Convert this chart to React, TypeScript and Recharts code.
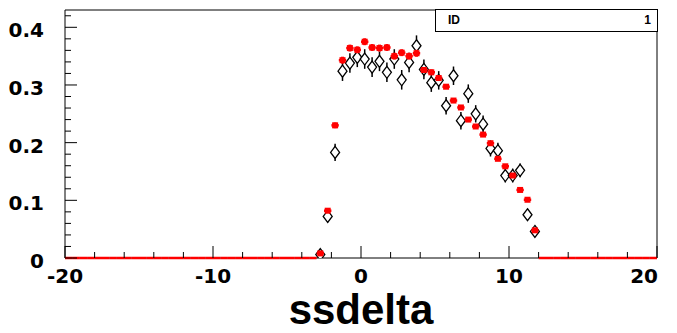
import {
  ComposedChart,
  Scatter,
  XAxis,
  YAxis,
  ErrorBar,
  ReferenceLine,
  Label,
} from "recharts";

// bin centres of the 80-bin histogram, -20..20
const binCenters = [
  -19.75, -19.25, -18.75, -18.25, -17.75, -17.25, -16.75, -16.25, -15.75, -15.25,
  -14.75, -14.25, -13.75, -13.25, -12.75, -12.25, -11.75, -11.25, -10.75, -10.25,
  -9.75, -9.25, -8.75, -8.25, -7.75, -7.25, -6.75, -6.25, -5.75, -5.25,
  -4.75, -4.25, -3.75, -3.25, -2.75, -2.25, -1.75, -1.25, -0.75, -0.25,
  0.25, 0.75, 1.25, 1.75, 2.25, 2.75, 3.25, 3.75, 4.25, 4.75,
  5.25, 5.75, 6.25, 6.75, 7.25, 7.75, 8.25, 8.75, 9.25, 9.75,
  10.25, 10.75, 11.25, 11.75, 12.25, 12.75, 13.25, 13.75, 14.25, 14.75,
  15.25, 15.75, 16.25, 16.75, 17.25, 17.75, 18.25, 18.75, 19.25, 19.75,
];

// red histogram (simulation)
const redValues = [
  0, 0, 0, 0, 0, 0, 0, 0, 0, 0,
  0, 0, 0, 0, 0, 0, 0, 0, 0, 0,
  0, 0, 0, 0, 0, 0, 0, 0, 0, 0,
  0, 0, 0, 0, 0.008, 0.082, 0.23, 0.343, 0.364, 0.361,
  0.375, 0.365, 0.364, 0.365, 0.35, 0.356, 0.35, 0.355, 0.326, 0.322,
  0.312, 0.297, 0.273, 0.261, 0.24, 0.228, 0.214, 0.199, 0.172, 0.159,
  0.143, 0.118, 0.101, 0.048, 0, 0, 0, 0, 0, 0,
  0, 0, 0, 0, 0, 0, 0, 0, 0, 0,
];
const redErrors = [
  0, 0, 0, 0, 0, 0, 0, 0, 0, 0,
  0, 0, 0, 0, 0, 0, 0, 0, 0, 0,
  0, 0, 0, 0, 0, 0, 0, 0, 0, 0,
  0, 0, 0, 0, 0.002, 0.003, 0.005, 0.006, 0.006, 0.006,
  0.006, 0.006, 0.006, 0.006, 0.006, 0.006, 0.006, 0.006, 0.005, 0.005,
  0.005, 0.004, 0.004, 0.004, 0.003, 0.003, 0.003, 0.003, 0.003, 0.002,
  0.002, 0.002, 0.002, 0.002, 0, 0, 0, 0, 0, 0,
  0, 0, 0, 0, 0, 0, 0, 0, 0, 0,
];

// black diamonds (data), only filled bins
const blackCenters = [
  -2.75, -2.25, -1.75, -1.25, -0.75, -0.25, 0.25, 0.75, 1.25, 1.75,
  2.25, 2.75, 3.25, 3.75, 4.25, 4.75, 5.25, 5.75, 6.25, 6.75,
  7.25, 7.75, 8.25, 8.75, 9.25, 9.75, 10.25, 10.75, 11.25, 11.75,
];
const blackValues = [
  0.006, 0.072, 0.183, 0.324, 0.338, 0.348, 0.345, 0.331, 0.341, 0.322,
  0.345, 0.309, 0.339, 0.368, 0.327, 0.304, 0.308, 0.264, 0.316, 0.238,
  0.285, 0.25, 0.232, 0.19, 0.186, 0.143, 0.143, 0.152, 0.075, 0.046,
];
const blackErrors = [
  0.003, 0.01, 0.015, 0.017, 0.017, 0.017, 0.017, 0.017, 0.017, 0.017,
  0.017, 0.017, 0.017, 0.018, 0.017, 0.016, 0.016, 0.015, 0.016, 0.015,
  0.016, 0.015, 0.015, 0.014, 0.014, 0.012, 0.012, 0.012, 0.009, 0.007,
];

const xTicks = [
  -20, -18, -16, -14, -12, -10, -8, -6, -4, -2, 0, 2, 4, 6, 8, 10, 12, 14, 16, 18, 20,
];
const xLabels = [-20, -10, 0, 10, 20];
const yTicks = [
  0, 0.02, 0.04, 0.06, 0.08, 0.1, 0.12, 0.14, 0.16, 0.18, 0.2, 0.22, 0.24,
  0.26, 0.28, 0.3, 0.32, 0.34, 0.36, 0.38, 0.4, 0.42,
];
const yLabels = [0, 0.1, 0.2, 0.3, 0.4];

const BIN_HALF = 0.25;
const Y_MAX = 0.43;

const redData = binCenters.map((x, i) => ({
  x,
  y: redValues[i],
  ex: BIN_HALF,
  ey: redErrors[i],
}));
const blackData = blackCenters.map((x, i) => ({
  x,
  y: blackValues[i],
  ey: blackErrors[i],
}));

const labelFont = "'DejaVu Sans', sans-serif";

function XTick(props: any) {
  const { x, y, payload } = props;
  const v = payload.value;
  const major = xLabels.includes(v);
  // last label kept inside the pad, like ROOT does
  const last = v === xLabels[xLabels.length - 1];
  return (
    <g>
      <line x1={x} y1={y} x2={x} y2={y - (major ? 12 : 6)} stroke="#000" />
      {major && (
        <text
          x={last ? x + 1 : x}
          y={y + 25}
          textAnchor={last ? "end" : "middle"}
          fontFamily={labelFont}
          fontWeight="bold"
          fontSize={20}
          fill="#000"
        >
          {v}
        </text>
      )}
    </g>
  );
}

function YTick(props: any) {
  const { x, y, payload } = props;
  const v = payload.value;
  const major = yLabels.some((l) => Math.abs(l - v) < 1e-6);
  return (
    <g>
      <line x1={x} y1={y} x2={x + (major ? 12 : 6)} y2={y} stroke="#000" />
      {major && (
        <text
          x={x - 21}
          y={y + 10}
          textAnchor="end"
          fontFamily={labelFont}
          fontWeight="bold"
          fontSize={20}
          fill="#000"
        >
          {v}
        </text>
      )}
    </g>
  );
}

function Diamond(props: any) {
  const { cx, cy } = props;
  const pts = `${cx},${cy - 6} ${cx + 4.5},${cy} ${cx},${cy + 6} ${cx - 4.5},${cy}`;
  return <polygon points={pts} fill="#fff" stroke="#000" strokeWidth={1.3} />;
}

function RedMarker(props: any) {
  const { cx, cy, payload } = props;
  if (!payload || payload.y <= 0) return <g />;
  return <rect x={cx - 3} y={cy - 3} width={6} height={6} fill="#ff0000" />;
}

function AxisTitle(props: any) {
  const { viewBox } = props;
  return (
    <text
      x={viewBox.x + viewBox.width / 2}
      y={viewBox.y + 66}
      textAnchor="middle"
      fontFamily="'Liberation Sans', Arial, sans-serif"
      fontWeight="bold"
      fontSize={42}
      fill="#000"
    >
      ssdelta
    </text>
  );
}

export default function App() {
  return (
    <div
      style={{
        position: "absolute",
        left: 0,
        top: 0,
        width: 677,
        height: 333,
        background: "#fff",
      }}
    >
      <ComposedChart
        width={677}
        height={333}
        margin={{ top: 10, right: 20, bottom: 0, left: 0 }}
      >
        <XAxis
          type="number"
          dataKey="x"
          domain={[-20, 20]}
          ticks={xTicks}
          interval={0}
          allowDataOverflow
          height={75}
          tickSize={0}
          tickMargin={0}
          tick={<XTick />}
          axisLine={false}
          tickLine={false}
        >
          <Label content={<AxisTitle />} position="insideBottom" />
        </XAxis>
        <YAxis
          type="number"
          dataKey="y"
          domain={[0, Y_MAX]}
          ticks={yTicks}
          interval={0}
          allowDataOverflow
          width={65}
          tickSize={0}
          tickMargin={0}
          tick={<YTick />}
          axisLine={{ stroke: "#000" }}
          tickLine={false}
        />
        <ReferenceLine y={0} stroke="#000" ifOverflow="visible" />
        <ReferenceLine y={Y_MAX} stroke="#000" ifOverflow="visible" />
        <ReferenceLine x={20} stroke="#000" ifOverflow="visible" />
        <Scatter
          data={blackData}
          dataKey="y"
          shape={<Diamond />}
          isAnimationActive={false}
        >
          <ErrorBar
            dataKey="ey"
            direction="y"
            width={0}
            stroke="#000"
            strokeWidth={1.5}
            isAnimationActive={false}
          />
        </Scatter>
        <Scatter
          data={redData}
          dataKey="y"
          shape={<RedMarker />}
          isAnimationActive={false}
        >
          <ErrorBar
            dataKey="ex"
            direction="x"
            width={0}
            stroke="#ff0000"
            strokeWidth={2.5}
            isAnimationActive={false}
            zIndex={700}
          />
          <ErrorBar
            dataKey="ey"
            direction="y"
            width={0}
            stroke="#ff0000"
            strokeWidth={3}
            isAnimationActive={false}
            zIndex={700}
          />
        </Scatter>
      </ComposedChart>
      <div
        style={{
          position: "absolute",
          left: 435,
          top: 9,
          width: 223,
          height: 23,
          boxSizing: "border-box",
          border: "1px solid #000",
          background: "#fff",
          fontFamily: "'Liberation Sans', Arial, sans-serif",
          fontWeight: "bold",
          fontSize: 12,
          lineHeight: "21px",
        }}
      >
        <span style={{ position: "absolute", left: 12 }}>ID</span>
        <span style={{ position: "absolute", right: 6 }}>1</span>
      </div>
    </div>
  );
}
